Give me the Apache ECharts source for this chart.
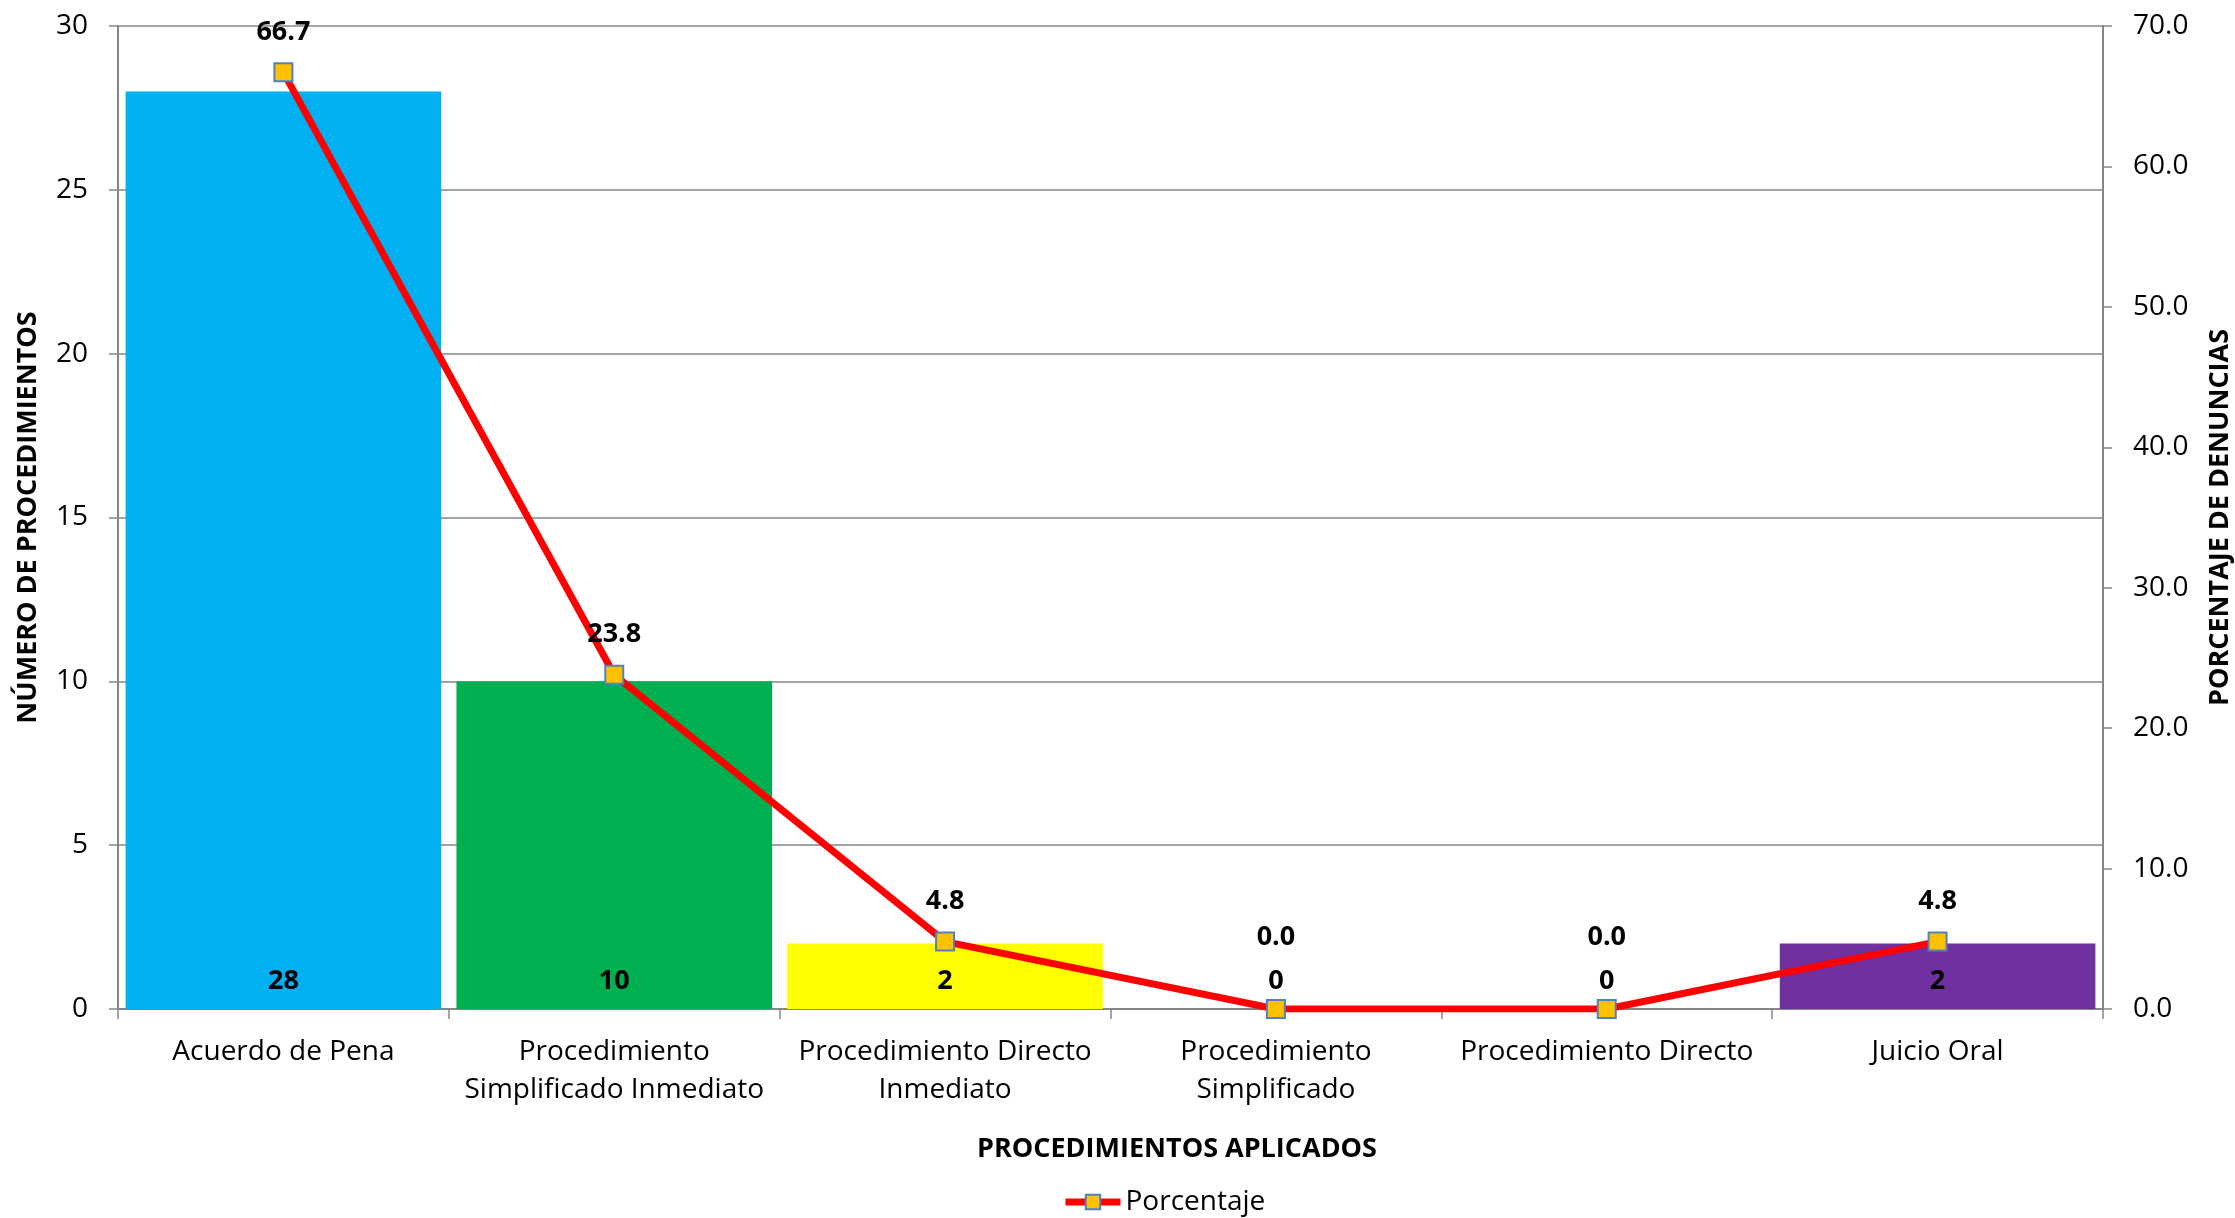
<!DOCTYPE html>
<html>
<head>
<meta charset="utf-8">
<script src="https://cdn.jsdelivr.net/npm/echarts@6/dist/echarts.min.js"></script>
<style>
html,body{margin:0;padding:0;background:#fff;}
#chart{width:2235px;height:1218px;}
</style>
</head>
<body>
<div id="chart"></div>
<script>
const categories = ['Acuerdo de Pena', 'Procedimiento\nSimplificado Inmediato', 'Procedimiento Directo\nInmediato', 'Procedimiento\nSimplificado', 'Procedimiento Directo', 'Juicio Oral'];
const counts = [28, 10, 2, 0, 0, 2];
const percentages = [66.7, 23.8, 4.8, 0.0, 0.0, 4.8];
const leftTicks = {min: 0, max: 30, interval: 5};
const rightTicks = {min: 0, max: 70, interval: 10};
const barColors = ['#00B0F0', '#00B050', '#FFFF00', '#00B0F0', '#00B0F0', '#7030A0'];

const FONT = '"Open Sans", "Noto Sans", sans-serif';
const GRAY = '#868686';

const chart = echarts.init(document.getElementById('chart'), null, {renderer: 'canvas'});

const option = {
  backgroundColor: '#ffffff',
  animation: false,
  textStyle: {fontFamily: FONT, color: '#000'},
  grid: {left: 118, right: 132, top: 26, bottom: 209, containLabel: false, outerBoundsMode: 'none'},
  legend: {
    data: ['Porcentaje'],
    left: 1057,
    top: 1183,
    itemWidth: 55,
    itemHeight: 18,
    lineStyle: {width: 7},
    textStyle: {fontFamily: FONT, fontSize: 28, color: '#000'}
  },
  graphic: [{
    type: 'text',
    x: 1177,
    y: 1149,
    style: {
      text: 'PROCEDIMIENTOS APLICADOS', font: 'bold 27px ' + FONT, fill: '#000',
      align: 'center', verticalAlign: 'middle'
    }
  }],
  xAxis: {
    type: 'category',
    data: categories,
    boundaryGap: true,
    axisLine: {show: true, lineStyle: {color: GRAY, width: 2}},
    axisTick: {show: true, length: 10, lineStyle: {color: GRAY, width: 1.5}},
    axisLabel: {fontSize: 28, lineHeight: 38, margin: 24, color: '#000', fontFamily: FONT, interval: 0}
  },
  yAxis: [{
    type: 'value',
    min: leftTicks.min, max: leftTicks.max, interval: leftTicks.interval,
    name: 'NÚMERO DE PROCEDIMIENTOS',
    nameLocation: 'middle',
    nameGap: 76,
    nameTextStyle: {fontSize: 27, fontWeight: 'bold', color: '#000', fontFamily: FONT},
    axisLine: {show: true, lineStyle: {color: GRAY, width: 2}},
    axisTick: {show: true, length: 9, lineStyle: {color: GRAY, width: 1.5}},
    axisLabel: {fontSize: 28, margin: 30, color: '#000', fontFamily: FONT},
    splitLine: {show: true, lineStyle: {color: GRAY, width: 1.5}}
  }, {
    type: 'value',
    position: 'right',
    min: rightTicks.min, max: rightTicks.max, interval: rightTicks.interval,
    name: 'PORCENTAJE DE DENUNCIAS',
    nameLocation: 'middle',
    nameGap: 104,
    nameTextStyle: {fontSize: 27, fontWeight: 'bold', color: '#000', fontFamily: FONT},
    axisLine: {show: true, lineStyle: {color: GRAY, width: 2}},
    axisTick: {show: true, length: 9, lineStyle: {color: GRAY, width: 1.5}},
    axisLabel: {fontSize: 28, margin: 30, color: '#000', fontFamily: FONT, formatter: v => v.toFixed(1)},
    splitLine: {show: false}
  }],
  series: [{
    name: 'Procedimientos',
    type: 'bar',
    yAxisIndex: 0,
    barCategoryGap: '4.6%',
    data: counts.map((v, i) => ({value: v, itemStyle: {color: barColors[i]}})),
    label: {
      show: true, position: 'insideBottom', distance: 14,
      fontSize: 27, fontWeight: 'bold', color: '#000', fontFamily: FONT
    },
    z: 2
  }, {
    name: 'Porcentaje',
    type: 'line',
    yAxisIndex: 1,
    data: percentages.map(v => ({value: v, label: {distance: v === 0 ? 48 : 17}})),
    symbol: 'rect',
    symbolSize: 18,
    lineStyle: {color: '#FF0000', width: 7},
    itemStyle: {color: '#FFC000', borderColor: '#4F81BD', borderWidth: 2},
    label: {
      show: true, position: 'top',
      fontSize: 27, fontWeight: 'bold', color: '#000', fontFamily: FONT,
      formatter: p => Number(p.value).toFixed(1)
    },
    z: 5
  }]
};

chart.setOption(option);
</script>
</body>
</html>
